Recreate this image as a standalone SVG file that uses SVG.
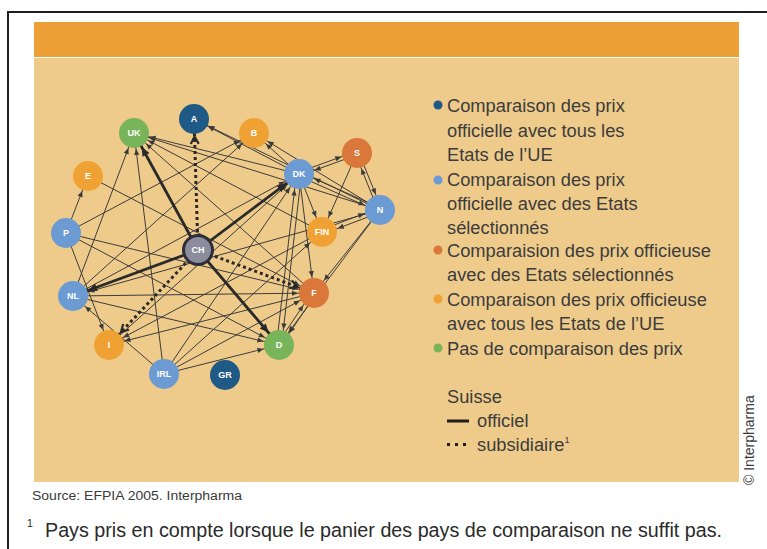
<svg xmlns="http://www.w3.org/2000/svg" width="767" height="549" viewBox="0 0 767 549">
<style>
.bg{fill:#ffffff}
.frame{stroke:#1e1e1e;stroke-width:2;fill:none}
.thin{stroke:#3c3c3c;stroke-width:1;fill:none}
.thick{stroke:#2a2a2a;stroke-width:2.8;fill:none}
.dot{stroke:#2a2a2a;stroke-width:3;fill:none;stroke-dasharray:3 3}
.lbl{font-family:"Liberation Sans",Arial,sans-serif;font-size:9px;font-weight:bold;fill:#ffffff;text-anchor:middle}
.leg{font-family:"Liberation Sans",Arial,sans-serif;font-size:18.3px;fill:#3c3c3c}
.c-db{fill:#1f5a87}.c-lb{fill:#6c9bd3}.c-do{fill:#d9783a}.c-or{fill:#efa233}.c-gr{fill:#78b45a}
</style>
<defs>
<marker id="a" markerUnits="userSpaceOnUse" markerWidth="1" markerHeight="1" orient="auto" overflow="visible"><path d="M-16,0 L-22,-2.6 L-22,2.6 z" fill="#3a3a3a"/></marker>
<marker id="t" markerUnits="userSpaceOnUse" markerWidth="1" markerHeight="1" orient="auto" overflow="visible"><path d="M-16,0 L-25,-4 L-25,4 z" fill="#2a2a2a"/></marker>
<marker id="d" markerUnits="userSpaceOnUse" markerWidth="1" markerHeight="1" orient="auto" overflow="visible"><path d="M-25,-4 L-17.5,0 L-25,4" fill="none" stroke="#2a2a2a" stroke-width="2.2"/></marker>
</defs>
<rect class="bg" x="0" y="0" width="767" height="549"/>
<path class="frame" d="M8,549 L8,12 L767,12"/>
<rect x="34" y="22" width="705" height="35" fill="#eca035"/>
<rect x="34" y="58" width="705" height="424" fill="#eecb8b"/>

<g id="connectors">
<g marker-end="url(#a)" class="thin">
<line x1="299" y1="174" x2="194" y2="119"/>
<line x1="380" y1="210" x2="194" y2="119"/>
<line x1="299" y1="174" x2="134" y2="133"/>
<line x1="380" y1="210" x2="134" y2="133"/>
<line x1="73" y1="296" x2="134" y2="133"/>
<line x1="164" y1="374" x2="134" y2="133"/>
<line x1="314" y1="293" x2="134" y2="133"/>
<line x1="322" y1="232" x2="134" y2="133"/>
<line x1="299" y1="174" x2="254" y2="133"/>
<line x1="380" y1="210" x2="254" y2="133"/>
<line x1="73" y1="296" x2="254" y2="133"/>
<line x1="66" y1="233" x2="254" y2="133"/>
<line x1="66" y1="233" x2="88" y2="176"/>
<line x1="88" y1="176" x2="314" y2="293"/>
<line x1="357.6" y1="154.7" x2="299.6" y2="175.7"/>
<line x1="298.4" y1="172.3" x2="356.4" y2="151.3"/>
<line x1="358.7" y1="152.3" x2="381.7" y2="209.3"/>
<line x1="378.3" y1="210.7" x2="355.3" y2="153.7"/>
<line x1="380.8" y1="208.2" x2="299.8" y2="172.2"/>
<line x1="298.2" y1="175.8" x2="379.2" y2="211.8"/>
<line x1="357" y1="153" x2="322" y2="232"/>
<line x1="380.8" y1="212.1" x2="322.8" y2="234.1"/>
<line x1="321.2" y1="229.9" x2="379.2" y2="207.9"/>
<line x1="380" y1="210" x2="73" y2="296"/>
<line x1="299" y1="174" x2="322" y2="232"/>
<line x1="301.5" y1="174.3" x2="281.5" y2="345.3"/>
<line x1="276.5" y1="344.7" x2="296.5" y2="173.7"/>
<line x1="299" y1="174" x2="314" y2="293"/>
<line x1="380" y1="210" x2="314" y2="293"/>
<line x1="380" y1="210" x2="279" y2="345"/>
<line x1="322" y1="232" x2="109" y2="345"/>
<line x1="315.7" y1="294.1" x2="280.7" y2="346.1"/>
<line x1="277.3" y1="343.9" x2="312.3" y2="291.9"/>
<line x1="73" y1="296" x2="314" y2="293"/>
<line x1="73" y1="296" x2="279" y2="345"/>
<line x1="73" y1="296" x2="299" y2="174"/>
<line x1="66" y1="233" x2="314" y2="293"/>
<line x1="66" y1="233" x2="279" y2="345"/>
<line x1="66" y1="233" x2="109" y2="345"/>
<line x1="314" y1="293" x2="109" y2="345"/>
<line x1="164" y1="374" x2="73" y2="296"/>
<line x1="164" y1="374" x2="299" y2="174"/>
<line x1="164" y1="374" x2="314" y2="293"/>
<line x1="164" y1="374" x2="279" y2="345"/>
<line x1="164" y1="374" x2="322" y2="232"/>
<line x1="109" y1="345" x2="299" y2="174"/>
</g>
<g class="thick" marker-end="url(#t)">
<line x1="198" y1="250" x2="134" y2="133"/>
<line x1="198" y1="250" x2="299" y2="174"/>
<line x1="198" y1="250" x2="73" y2="296"/>
<line x1="198" y1="250" x2="279" y2="345"/>
</g>
<g class="dot" marker-end="url(#d)">
<line x1="198" y1="250" x2="194" y2="119"/>
<line x1="198" y1="250" x2="314" y2="293"/>
<line x1="198" y1="250" x2="109" y2="345"/>
</g>
</g>

<g id="node-A"><circle class="c-db" cx="194" cy="119" r="15"/><text class="lbl" x="194" y="122">A</text></g>
<g id="node-UK"><circle class="c-gr" cx="134" cy="133" r="15"/><text class="lbl" x="134" y="136">UK</text></g>
<g id="node-B"><circle class="c-or" cx="254" cy="133" r="15"/><text class="lbl" x="254" y="136">B</text></g>
<g id="node-E"><circle class="c-or" cx="88" cy="176" r="15"/><text class="lbl" x="88" y="179">E</text></g>
<g id="node-DK"><circle class="c-lb" cx="299" cy="174" r="15"/><text class="lbl" x="299" y="177">DK</text></g>
<g id="node-S"><circle class="c-do" cx="357" cy="153" r="15"/><text class="lbl" x="357" y="156">S</text></g>
<g id="node-N"><circle class="c-lb" cx="380" cy="210" r="15"/><text class="lbl" x="380" y="213">N</text></g>
<g id="node-FIN"><circle class="c-or" cx="322" cy="232" r="15"/><text class="lbl" x="322" y="235">FIN</text></g>
<g id="node-P"><circle class="c-lb" cx="66" cy="233" r="15"/><text class="lbl" x="66" y="236">P</text></g>
<g id="node-CH"><circle cx="198" cy="250" r="14.5" fill="#8c8c9d" stroke="#2e2e3a" stroke-width="3"/><text class="lbl" x="198" y="253">CH</text></g>
<g id="node-NL"><circle class="c-lb" cx="73" cy="296" r="15"/><text class="lbl" x="73" y="299">NL</text></g>
<g id="node-F"><circle class="c-do" cx="314" cy="293" r="15"/><text class="lbl" x="314" y="296">F</text></g>
<g id="node-I"><circle class="c-or" cx="109" cy="345" r="15"/><text class="lbl" x="109" y="348">I</text></g>
<g id="node-D"><circle class="c-gr" cx="279" cy="345" r="15"/><text class="lbl" x="279" y="348">D</text></g>
<g id="node-IRL"><circle class="c-lb" cx="164" cy="374" r="15"/><text class="lbl" x="164" y="377">IRL</text></g>
<g id="node-GR"><circle class="c-db" cx="225" cy="375" r="15"/><text class="lbl" x="225" y="378">GR</text></g>

<g id="legend">
<circle class="c-db" cx="438" cy="105" r="4.5"/>
<circle class="c-lb" cx="438" cy="180" r="4.5"/>
<circle class="c-do" cx="438" cy="250" r="4.5"/>
<circle class="c-or" cx="438" cy="299" r="4.5"/>
<circle class="c-gr" cx="438" cy="348" r="4.5"/>
<text class="leg" x="447" y="112">Comparaison des prix</text>
<text class="leg" x="447" y="136.5">officielle avec tous les</text>
<text class="leg" x="447" y="161">Etats de l’UE</text>
<text class="leg" x="447" y="186">Comparaison des prix</text>
<text class="leg" x="447" y="210">officielle avec des Etats</text>
<text class="leg" x="447" y="233.5">sélectionnés</text>
<text class="leg" x="447" y="257">Comparaision des prix officieuse</text>
<text class="leg" x="447" y="281">avec des Etats sélectionnés</text>
<text class="leg" x="447" y="305.5">Comparaison des prix officieuse</text>
<text class="leg" x="447" y="330">avec tous les Etats de l’UE</text>
<text class="leg" x="447" y="355">Pas de comparaison des prix</text>
<text class="leg" x="447" y="403">Suisse</text>
<line x1="447" y1="421" x2="469" y2="421" stroke="#1e1e1e" stroke-width="3"/>
<text class="leg" x="477" y="427">officiel</text>
<line x1="447" y1="444.5" x2="467" y2="444.5" stroke="#1e1e1e" stroke-width="3" stroke-dasharray="3 5"/>
<text class="leg" x="477" y="451">subsidiaire<tspan font-size="9" dy="-8">1</tspan></text>
</g>

<text x="754" y="485" transform="rotate(-90 754 485)" font-family="'Liberation Sans',Arial,sans-serif" font-size="14" fill="#3a3a3a">© Interpharma</text>
<text x="32" y="500" font-family="'Liberation Sans',Arial,sans-serif" font-size="12.5" fill="#3a3a3a" textLength="210" lengthAdjust="spacingAndGlyphs">Source: EFPIA 2005. Interpharma</text>
<text x="27" y="527" font-family="'Liberation Sans',Arial,sans-serif" font-size="10.5" fill="#2a2a2a">1</text>
<text x="45" y="537" font-family="'Liberation Sans',Arial,sans-serif" font-size="19.5" fill="#2a2a2a" textLength="677" lengthAdjust="spacingAndGlyphs">Pays pris en compte lorsque le panier des pays de comparaison ne suffit pas.</text>
</svg>
